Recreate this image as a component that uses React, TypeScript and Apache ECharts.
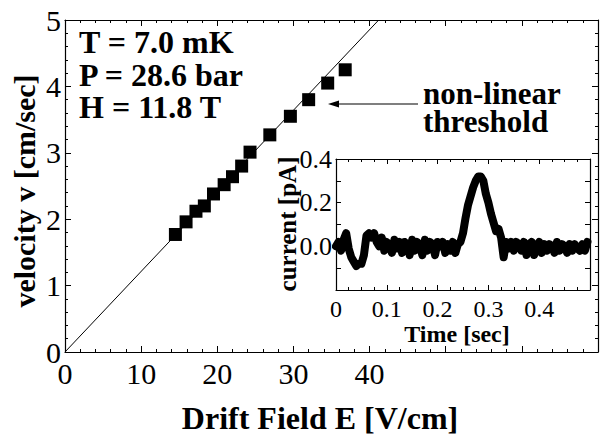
import React, { useEffect, useRef } from "react";
import * as echarts from "echarts";

// Main plot data: drift field E [V/cm] vs velocity v [cm/sec]
const fieldE = [14.5, 15.9, 17.2, 18.3, 19.5, 20.9, 22.0, 23.2, 24.3, 26.9, 29.6, 32.0, 34.5, 36.8];
const velocity = [1.77, 1.96, 2.12, 2.2, 2.38, 2.52, 2.64, 2.8, 3.01, 3.27, 3.55, 3.8, 4.05, 4.25];
// Linear fit line through origin
const fitE = [0, 41.2];
const fitV = [0, 5];

const mainXTicks = [0, 10, 20, 30, 40];
const paramLines = ["T = 7.0 mK", "P = 28.6 bar", "H = 11.8 T"];
const annotationLines = ["non-linear", "threshold"];

// Inset: current trace
const timeSec = [
  0.0, 0.005, 0.01, 0.015, 0.02, 0.025, 0.03, 0.035, 0.04, 0.045,
  0.05, 0.055, 0.06, 0.065, 0.07, 0.075, 0.08, 0.085, 0.09, 0.095,
  0.1, 0.105, 0.11, 0.115, 0.12, 0.125, 0.13, 0.135, 0.14, 0.145,
  0.15, 0.155, 0.16, 0.165, 0.17, 0.175, 0.18, 0.185, 0.19, 0.195,
  0.2, 0.205, 0.21, 0.215, 0.22, 0.225, 0.23, 0.235, 0.24, 0.245,
  0.25, 0.255, 0.26, 0.265, 0.27, 0.275, 0.28, 0.285, 0.29, 0.295,
  0.3, 0.305, 0.31, 0.315, 0.32, 0.325, 0.33, 0.335, 0.34, 0.345,
  0.35, 0.355, 0.36, 0.365, 0.37, 0.375, 0.38, 0.385, 0.39, 0.395,
  0.4, 0.405, 0.41, 0.415, 0.42, 0.425, 0.43, 0.435, 0.44, 0.445,
  0.45, 0.455, 0.46, 0.465, 0.47, 0.475, 0.48, 0.485, 0.49, 0.495,
];
const currentPA = [
  0.0, 0.02, -0.02, 0.03, 0.06, -0.01, -0.05, -0.07, -0.09, -0.08,
  -0.08, -0.04, 0.05, 0.06, 0.04, 0.06, 0.02, 0.0, 0.04, -0.02,
  0.02, 0.0, -0.03, 0.03, -0.01, 0.02, -0.03, 0.02, 0.01, -0.04,
  0.03, -0.02, 0.02, 0.0, -0.04, 0.03, -0.02, 0.02, 0.01, -0.04,
  0.02, 0.0, 0.02, -0.03, 0.01, -0.02, 0.02, -0.03, 0.01, 0.02,
  0.06, 0.13, 0.19, 0.23, 0.27, 0.3, 0.32, 0.32, 0.3, 0.24,
  0.2, 0.15, 0.11, 0.07, 0.08, 0.04, -0.05, 0.02, -0.01, 0.02,
  -0.02, 0.02, 0.01, -0.02, 0.02, -0.04, 0.01, 0.02, -0.04, 0.0,
  0.02, -0.03, 0.01, -0.02, 0.01, 0.0, -0.03, 0.02, -0.02, 0.01,
  0.0, -0.03, 0.01, -0.02, 0.01, -0.01, -0.02, 0.01, -0.02, 0.02,
];

const SERIF = "Liberation Serif";

export default function App() {
  const ref = useRef<HTMLDivElement>(null);

  useEffect(() => {
    document.body.style.margin = "0";
    if (!ref.current) return;
    const chart = echarts.init(ref.current, null, { renderer: "svg" });

    const black = "#000";
    const tickStyle = { color: black, width: 1 };

    const mainAxisCommon = {
      axisLine: { show: true, onZero: false, lineStyle: { color: black, width: 1.2 } },
      axisTick: { show: true, inside: true, length: 6, lineStyle: tickStyle },
      minorTick: { show: true, splitNumber: 5, length: 3, lineStyle: tickStyle },
      splitLine: { show: false },
    };
    const insetAxisCommon = {
      axisLine: { show: true, onZero: false, lineStyle: { color: black, width: 1.2 } },
      axisTick: { show: true, inside: true, length: 5, lineStyle: tickStyle },
      splitLine: { show: false },
    };

    const boldText = (size: number) => ({ fontFamily: SERIF, fontWeight: "bold", fontSize: size, fill: black });

    const option: any = {
      animation: false,
      backgroundColor: "#fff",
      grid: [
        { left: 65, top: 20, width: 537, height: 332 },
        { left: 336, top: 159, width: 254, height: 131 },
      ],
      xAxis: [
        {
          gridIndex: 0, type: "value", min: 0, max: 70, interval: 10, position: "bottom",
          ...mainAxisCommon,
          axisLabel: {
            show: true, margin: 6, color: black, fontFamily: SERIF, fontSize: 30,
            formatter: (v: number) => (mainXTicks.includes(v) ? String(v) : ""),
          },
        },
        {
          gridIndex: 0, type: "value", min: 0, max: 70, interval: 10, position: "top",
          ...mainAxisCommon, axisLabel: { show: false },
        },
        {
          gridIndex: 1, type: "value", min: 0, max: 0.5, interval: 0.1, position: "bottom",
          ...insetAxisCommon,
          minorTick: { show: true, splitNumber: 4, length: 3, lineStyle: tickStyle },
          axisLabel: {
            show: true, margin: 7, color: black, fontFamily: SERIF, fontSize: 24,
            formatter: (v: number) => (v > 0.45 ? "" : v === 0 ? "0" : v.toFixed(1)),
          },
        },
        {
          gridIndex: 1, type: "value", min: 0, max: 0.5, interval: 0.1, position: "top",
          ...insetAxisCommon,
          minorTick: { show: true, splitNumber: 4, length: 3, lineStyle: tickStyle },
          axisLabel: { show: false },
        },
      ],
      yAxis: [
        {
          gridIndex: 0, type: "value", min: 0, max: 5, interval: 1, position: "left",
          ...mainAxisCommon,
          axisLabel: { show: true, margin: 4, color: black, fontFamily: SERIF, fontSize: 30 },
        },
        {
          gridIndex: 0, type: "value", min: 0, max: 5, interval: 1, position: "right",
          ...mainAxisCommon, axisLabel: { show: false },
        },
        {
          gridIndex: 1, type: "value", min: -0.2, max: 0.4, interval: 0.2, position: "left",
          ...insetAxisCommon,
          minorTick: { show: true, splitNumber: 2, length: 5, lineStyle: tickStyle },
          axisLabel: {
            show: true, margin: 4, color: black, fontFamily: SERIF, fontSize: 26,
            formatter: (v: number) => (v < 0 ? "" : v.toFixed(1)),
          },
        },
        {
          gridIndex: 1, type: "value", min: -0.2, max: 0.4, interval: 0.2, position: "right",
          ...insetAxisCommon,
          minorTick: { show: true, splitNumber: 2, length: 5, lineStyle: tickStyle },
          axisLabel: { show: false },
        },
      ],
      series: [
        {
          type: "line", xAxisIndex: 0, yAxisIndex: 0,
          data: fitE.map((e, i) => [e, fitV[i]]),
          symbol: "none", lineStyle: { color: black, width: 1 }, silent: true,
        },
        {
          type: "scatter", xAxisIndex: 0, yAxisIndex: 0,
          data: fieldE.map((e, i) => [e, velocity[i]]),
          symbol: "rect", symbolSize: 13, itemStyle: { color: black, opacity: 1 },
        },
        {
          type: "line", xAxisIndex: 2, yAxisIndex: 2,
          data: timeSec.map((t, i) => [t, currentPA[i]]),
          symbol: "none",
          lineStyle: { color: black, width: 8, join: "round", cap: "round" },
        },
      ],
      graphic: [
        {
          type: "text", x: 79, y: 26,
          style: { text: paramLines.join("\n"), ...boldText(32), lineHeight: 32.5, verticalAlign: "top" },
        },
        {
          type: "text", x: 423, y: 79,
          style: { text: annotationLines.join("\n"), ...boldText(31), lineHeight: 28, verticalAlign: "top" },
        },
        {
          type: "line",
          shape: { x1: 336, y1: 104, x2: 418, y2: 104 },
          style: { stroke: black, lineWidth: 1.2 },
        },
        {
          type: "polygon",
          shape: { points: [[328, 104], [339, 100.5], [339, 107.5]] },
          style: { fill: black },
        },
        {
          type: "text", x: 320, y: 418,
          style: { text: "Drift Field E [V/cm]", ...boldText(32), align: "center", verticalAlign: "middle" },
        },
        {
          type: "text", x: 24, y: 191, rotation: Math.PI / 2,
          style: { text: "velocity v [cm/sec]", ...boldText(30), align: "center", verticalAlign: "middle" },
        },
        {
          type: "text", x: 287, y: 224, rotation: Math.PI / 2,
          style: { text: "current [pA]", ...boldText(25), align: "center", verticalAlign: "middle" },
        },
        {
          type: "text", x: 457, y: 334,
          style: { text: "Time [sec]", ...boldText(24), align: "center", verticalAlign: "middle" },
        },
      ],
    };

    chart.setOption(option);
    return () => chart.dispose();
  }, []);

  return <div ref={ref} style={{ width: 601, height: 439 }} />;
}
